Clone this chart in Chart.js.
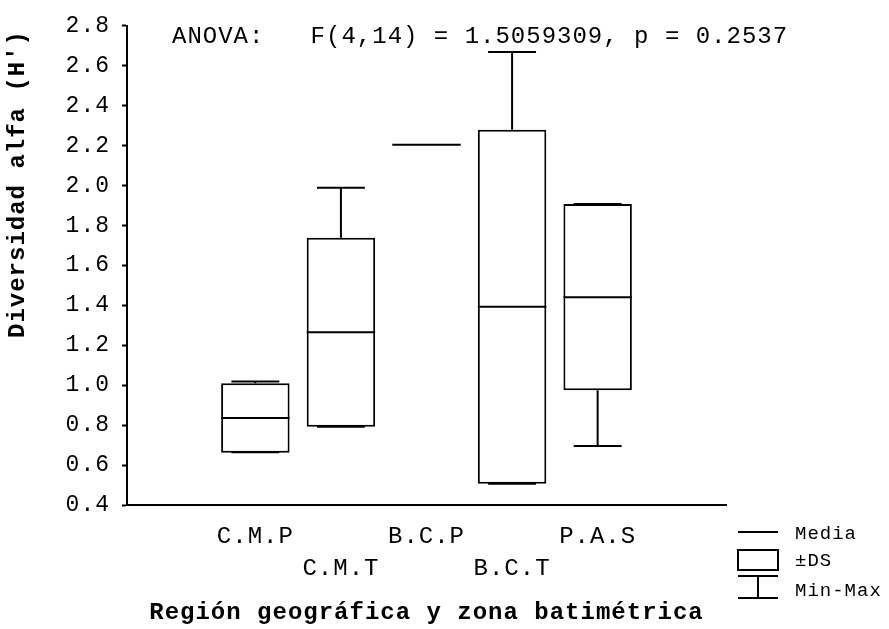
<!DOCTYPE html>
<html>
<head>
<meta charset="utf-8">
<script src="https://cdn.jsdelivr.net/npm/chart.js@4"></script>
<style>
  body { margin: 0; background: #fff; }
  canvas { display: block; }
</style>
</head>
<body>
<canvas id="chart" width="889" height="629"></canvas>
<script>
// mean, ±SD box and min-max whiskers per region / depth zone
const categories = ['C.M.P', 'C.M.T', 'B.C.P', 'B.C.T', 'P.A.S'];
const means = [0.836, 1.265, 2.204, 1.393, 1.441];
const sds = [0.174, 0.473, 0, 0.886, 0.466];
const mins = [0.664, 0.792, 2.204, 0.507, 0.695];
const maxs = [1.018, 1.989, 2.204, 2.669, 1.907];
const yTicks = [0.4, 0.6, 0.8, 1.0, 1.2, 1.4, 1.6, 1.8, 2.0, 2.2, 2.4, 2.6, 2.8];

const anovaText = 'ANOVA:   F(4,14) = 1.5059309, p = 0.2537';
const yTitle = "Diversidad alfa (H')";
const xTitle = 'Región geográfica y zona batimétrica';
const legendLabels = ['Media', '±DS', 'Min-Max'];

const FONT = "'Liberation Mono', 'Courier New', monospace";

// empty slot on each side, labels alternate between two rows
const labels = [''].concat(categories.map((c, i) => i % 2 ? ['', c] : [c, '']), ['']);
const boxes = [null].concat(means.map((m, i) => [m - sds[i], m + sds[i]]), [null]);

const spacing = {
  id: 'spacing',
  beforeDraw(chart) { chart.ctx.letterSpacing = '1px'; }
};

const boxExtras = {
  id: 'boxExtras',
  afterDatasetsDraw(chart) {
    const ctx = chart.ctx;
    const y = chart.scales.y;
    const meta = chart.getDatasetMeta(0);
    ctx.save();
    ctx.strokeStyle = '#000';
    ctx.lineWidth = 2;
    meta.data.forEach((bar, j) => {
      const i = j - 1;
      if (i < 0 || i >= categories.length) return;
      const {x, width} = bar.getProps(['x', 'width'], true);
      const half = width / 2, cap = width * 0.35;
      const yHi = y.getPixelForValue(means[i] + sds[i]);
      const yLo = y.getPixelForValue(means[i] - sds[i]);
      const yMax = y.getPixelForValue(maxs[i]);
      const yMin = y.getPixelForValue(mins[i]);
      const yMean = y.getPixelForValue(means[i]);
      ctx.beginPath();
      ctx.moveTo(x - half, yMean); ctx.lineTo(x + half, yMean);
      ctx.moveTo(x, yHi); ctx.lineTo(x, yMax);
      ctx.moveTo(x - cap, yMax); ctx.lineTo(x + cap, yMax);
      ctx.moveTo(x, yLo); ctx.lineTo(x, yMin);
      ctx.moveTo(x - cap, yMin); ctx.lineTo(x + cap, yMin);
      ctx.stroke();
    });
    ctx.restore();
  },
  afterDraw(chart) {
    const ctx = chart.ctx;
    const area = chart.chartArea;
    ctx.save();
    ctx.fillStyle = '#000';
    ctx.strokeStyle = '#000';
    ctx.textBaseline = 'middle';

    // ANOVA note
    ctx.font = '24px ' + FONT;
    ctx.textAlign = 'left';
    ctx.fillText(anovaText, area.left + 45, area.top + 11);

    // y axis title
    ctx.save();
    ctx.font = 'bold 24px ' + FONT;
    ctx.textAlign = 'center';
    ctx.translate(18, 184);
    ctx.rotate(-Math.PI / 2);
    ctx.fillText(yTitle, 0, 0);
    ctx.restore();

    // key
    const lx = area.right + 12, lw = 40, tx = lx + 57;
    ctx.lineWidth = 2;
    ctx.beginPath();
    ctx.moveTo(lx, 532); ctx.lineTo(lx + lw, 532);
    ctx.stroke();
    ctx.strokeRect(lx, 550, lw, 20);
    ctx.beginPath();
    ctx.moveTo(lx, 576); ctx.lineTo(lx + lw, 576);
    ctx.moveTo(lx + lw / 2, 576); ctx.lineTo(lx + lw / 2, 598);
    ctx.moveTo(lx, 598); ctx.lineTo(lx + lw, 598);
    ctx.stroke();
    ctx.font = '19px ' + FONT;
    ctx.fillText(legendLabels[0], tx, 534);
    ctx.fillText(legendLabels[1], tx, 561);
    ctx.fillText(legendLabels[2], tx, 591);
    ctx.restore();
  }
};

new Chart(document.getElementById('chart'), {
  type: 'bar',
  data: {
    labels: labels,
    datasets: [{
      data: boxes,
      backgroundColor: '#fff',
      borderColor: '#000',
      borderWidth: 2,
      borderSkipped: false,
      barPercentage: 0.8,
      categoryPercentage: 1
    }]
  },
  options: {
    responsive: false,
    animation: false,
    devicePixelRatio: 1,
    layout: { padding: { top: 17, right: 163, bottom: 0, left: 0 } },
    plugins: { legend: { display: false }, tooltip: { enabled: false } },
    scales: {
      x: {
        offset: true,
        grid: { display: true, drawOnChartArea: false, drawTicks: false },
        border: { color: '#000', width: 2 },
        ticks: {
          color: '#000',
          padding: 16,
          maxRotation: 0,
          autoSkip: false,
          font: { family: FONT, size: 24, lineHeight: '32px' }
        },
        title: {
          display: true,
          text: xTitle,
          color: '#000',
          font: { family: FONT, size: 24, weight: 'bold', lineHeight: '30px' },
          padding: { top: 13, bottom: 1 }
        },
        afterFit(s) { s.height = 124; }
      },
      y: {
        min: 0.4,
        max: 2.8,
        grid: { drawOnChartArea: false, drawTicks: true, tickLength: 5, tickColor: '#000', tickWidth: 2 },
        border: { color: '#000', width: 2 },
        afterBuildTicks(s) { s.ticks = yTicks.map(v => ({ value: v })); },
        ticks: {
          color: '#000',
          padding: 12,
          font: { family: FONT, size: 23 },
          callback: v => v.toFixed(1)
        },
        afterFit(s) { s.width = 127; }
      }
    }
  },
  plugins: [spacing, boxExtras]
});
</script>
</body>
</html>
